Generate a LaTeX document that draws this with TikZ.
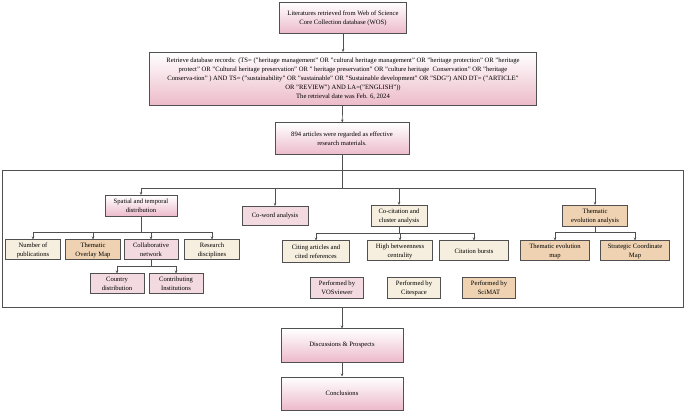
\documentclass[tikz,border=0pt]{standalone}
\usepackage{fontspec}
\setmainfont{Liberation Serif}
\usetikzlibrary{arrows.meta}

\definecolor{pinkdeep}{RGB}{236,186,202}
\definecolor{vosfill}{RGB}{242,218,224}
\definecolor{citefill}{RGB}{246,238,222}
\definecolor{scifill}{RGB}{238,210,178}
\definecolor{edge}{RGB}{80,80,80}

\tikzset{
  box/.style={draw=edge, line width=1pt, align=center, inner sep=1pt,
              font=\fontsize{6.6}{9}\selectfont},
  grad/.style={box, top color=white, bottom color=pinkdeep},
  vos/.style={box, fill=vosfill},
  cite/.style={box, fill=citefill},
  sci/.style={box, fill=scifill},
  arr/.style={-{Stealth[length=3pt,width=2.5pt]}, draw=edge, line width=0.7pt},
  ln/.style={draw=edge, line width=0.7pt}
}

\begin{document}
\begin{tikzpicture}[x=1pt, y=-1pt]
\useasboundingbox (0,0) rectangle (685,411);

% main flow
\node[grad, minimum width=127pt, minimum height=31pt] (wos) at (343,18)
  {Literatures retrieved from Web of Science\\Core Collection database (WOS)};
\node[grad, minimum width=387pt, minimum height=53pt] (query) at (343,79)
  {Retrieve database records: (TS= ("heritage management" OR "cultural heritage management" OR "heritage protection" OR "heritage\\
   protect" OR "Cultural heritage preservation" OR " heritage preservation" OR "culture heritage~ Conservation" OR "heritage\\
   Conserva-tion" ) AND TS= ("sustainability" OR "sustainable" OR "Sustainable development" OR "SDG") AND DT= ("ARTICLE"\\
   OR "REVIEW") AND LA=("ENGLISH"))\\The retrieval date was Feb. 6, 2024};
\node[grad, minimum width=134pt, minimum height=32pt] (arts) at (342,139)
  {894 articles were regarded as effective\\research materials.};

\draw[line width=0.8pt, draw=edge] (2,170) rectangle (683,307);
\node[inner sep=0pt] (frbot) at (342,307) {};

% first level
\node[grad, minimum width=72pt, minimum height=21pt] (spat) at (141,206)
  {Spatial and temporal\\distribution};
\node[vos, minimum width=66pt, minimum height=19pt] (cow) at (275,216) {Co-word analysis};
\node[cite, minimum width=56pt, minimum height=21pt] (cocit) at (399,216)
  {Co-citation and\\cluster analysis};
\node[sci, minimum width=65pt, minimum height=21pt] (them) at (595,216)
  {Thematic\\evolution analysis};

% second level
\node[cite, minimum width=55pt, minimum height=20pt] (num) at (33,250) {Number of\\publications};
\node[sci, minimum width=55pt, minimum height=20pt] (ovl) at (93,250) {Thematic\\Overlay Map};
\node[vos, minimum width=54pt, minimum height=20pt] (col) at (151,250) {Collaborative\\network};
\node[cite, minimum width=55pt, minimum height=20pt] (res) at (212,250) {Research\\disciplines};
\node[vos, minimum width=54pt, minimum height=20pt] (ctry) at (117,284) {Country\\distribution};
\node[vos, minimum width=54pt, minimum height=20pt] (inst) at (176,284) {Contributing\\Institutions};

\node[cite, minimum width=67pt, minimum height=22pt] (cit) at (316,252) {Citing articles and\\cited references};
\node[cite, minimum width=65pt, minimum height=20pt] (btw) at (400,251) {High betweenness\\centrality};
\node[cite, minimum width=69pt, minimum height=20pt] (burst) at (474,251) {Citation bursts};
\node[sci, minimum width=69pt, minimum height=20pt] (tmap) at (555,251) {Thematic evolution\\map};
\node[sci, minimum width=69pt, minimum height=20pt] (scm) at (635,251) {Strategic Coordinate\\Map};

% legend
\node[vos, minimum width=53pt, minimum height=21pt] (lvos) at (337,288) {Performed by\\VOSviewer};
\node[cite, minimum width=53pt, minimum height=21pt] (lcite) at (414,288) {Performed by\\Citespace};
\node[sci, minimum width=53pt, minimum height=21pt] (lsci) at (489,288) {Performed by\\SciMAT};

% ending
\node[grad, minimum width=122pt, minimum height=33pt] (disc) at (342,345.5) {Discussions \& Prospects};
\node[grad, minimum width=122pt, minimum height=33pt] (conc) at (342,393.5) {Conclusions};

% connectors
\draw[arr] (wos) -- (query);
\draw[arr] (query) -- (arts);
\coordinate (b0) at (342,188);
\draw[ln] (arts) -- (b0);
\foreach \t in {spat, cow, cocit, them}
  \draw[arr] (b0) -| (\t);
\coordinate (b1) at (141,232);
\draw[ln] (spat) -- (b1);
\foreach \t in {num, ovl, col, res}
  \draw[arr] (b1) -| (\t);
\coordinate (b2) at (151,266);
\draw[ln] (col) -- (b2);
\foreach \t in {ctry, inst}
  \draw[arr] (b2) -| (\t);
\coordinate (b3) at (399,233);
\draw[ln] (cocit) -- (b3);
\foreach \t in {cit, btw, burst}
  \draw[arr] (b3) -| (\t);
\coordinate (b4) at (595,232);
\draw[ln] (them) -- (b4);
\foreach \t in {tmap, scm}
  \draw[arr] (b4) -| (\t);
\draw[arr] (frbot) -- (disc);
\draw[arr] (disc) -- (conc);
\end{tikzpicture}
\end{document}
